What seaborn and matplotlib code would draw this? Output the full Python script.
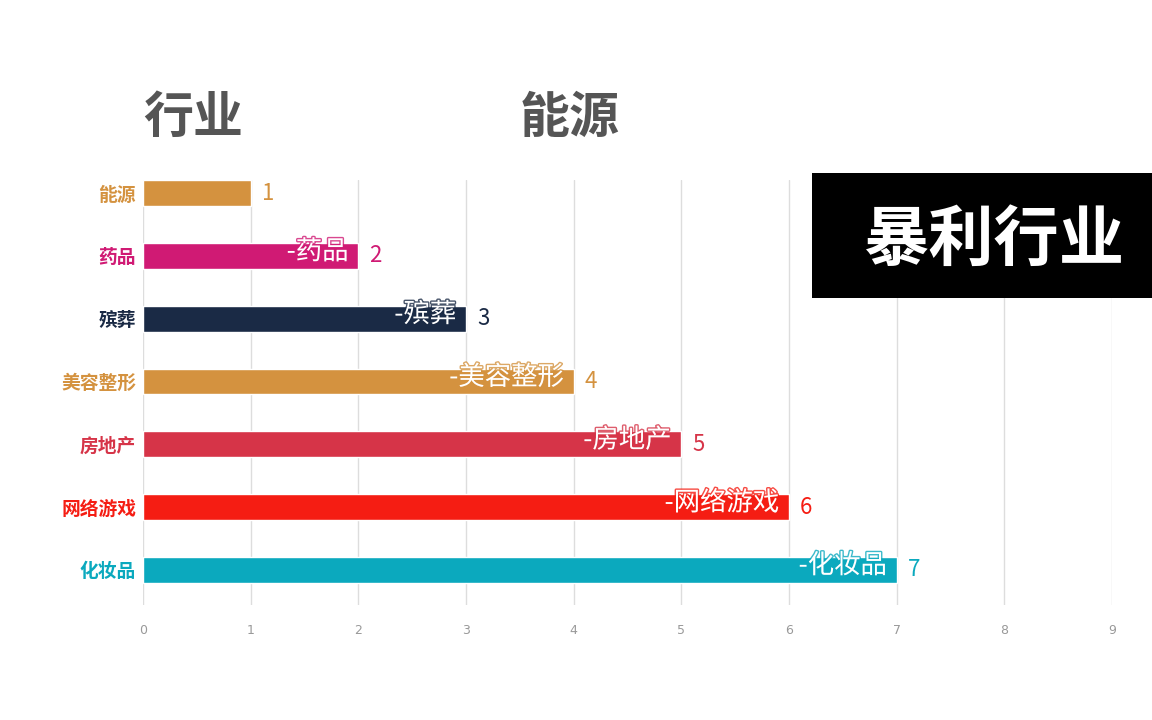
import matplotlib
matplotlib.use("Agg")
import matplotlib.pyplot as plt
import matplotlib.patheffects as pe
import seaborn as sns
import pandas as pd

categories = ["能源", "药品", "殡葬", "美容整形", "房地产", "网络游戏", "化妆品"]
values = [1, 2, 3, 4, 5, 6, 7]
inner_labels = ["", "-药品", "-殡葬", "-美容整形", "-房地产", "-网络游戏", "-化妆品"]
colors = ["#D4923F", "#D01A74", "#1A2A45", "#D4923F", "#D63448", "#F51D13", "#0BA9BE"]
x_ticks = [0, 1, 2, 3, 4, 5, 6, 7, 8, 9]
title_left = "行业"
title_mid = "能源"
badge = "暴利行业"

sns.set_theme(style="white")
plt.rcParams['font.family'] = ['Noto Sans CJK SC', 'DejaVu Sans']

df = pd.DataFrame({"cat": categories, "val": values})

fig = plt.figure(figsize=(11.52, 7.2), dpi=100)
ax = fig.add_axes([143/1152, 1-605/720, (1112-143)/1152, (605-180)/720])

sns.barplot(data=df, x="val", y="cat", hue="cat", palette=colors, orient="h",
            width=0.41, legend=False, ax=ax, saturation=1, zorder=2)

ax.set_xlim(0, 9)
ax.set_ylim(6.56, -0.21)
ax.set_xticks(x_ticks)
ax.set_xticklabels([str(t) for t in x_ticks], color="#999999", fontsize=9, family="DejaVu Sans")
ax.tick_params(axis="x", length=4, color="#dddddd", pad=10)
ax.tick_params(axis="y", length=0, pad=5)
ax.grid(axis="x", color="#dddddd", linewidth=1, zorder=0)
ax.set_axisbelow(True)
for s in ax.spines.values():
    s.set_visible(False)
ax.set_xlabel("")
ax.set_ylabel("")

for lbl, c in zip(ax.get_yticklabels(), colors):
    lbl.set_color(c)
    lbl.set_fontweight("bold")
    lbl.set_fontsize(13.5)

for i, (v, lab, c) in enumerate(zip(values, inner_labels, colors)):
    ax.annotate(str(v), xy=(v, i), xytext=(8, 0), textcoords="offset points",
                va="center", ha="left", color=c, fontsize=16)
    if lab:
        ax.annotate(lab, xy=(v, i), xytext=(-7, 3), textcoords="offset points",
                    va="center", ha="right", color="white", fontsize=19, zorder=4,
                    path_effects=[pe.withStroke(linewidth=2, foreground=c, alpha=0.8)])

fig.text(193/1152, 1-118/720, title_left, fontsize=36, fontweight="bold",
         color="#555555", ha="center", va="center")
fig.text(570/1152, 1-118/720, title_mid, fontsize=36, fontweight="bold",
         color="#555555", ha="center", va="center")

box = plt.Rectangle((812/1152, 1-298/720), (1152-812)/1152, (298-173)/720,
                    transform=fig.transFigure, facecolor="black", edgecolor="none", zorder=5)
fig.patches.append(box)
fig.text(994/1152, 1-240/720, badge, fontsize=47, fontweight="bold",
         color="white", ha="center", va="center", zorder=6)

fig.savefig("out.png", dpi=100)
